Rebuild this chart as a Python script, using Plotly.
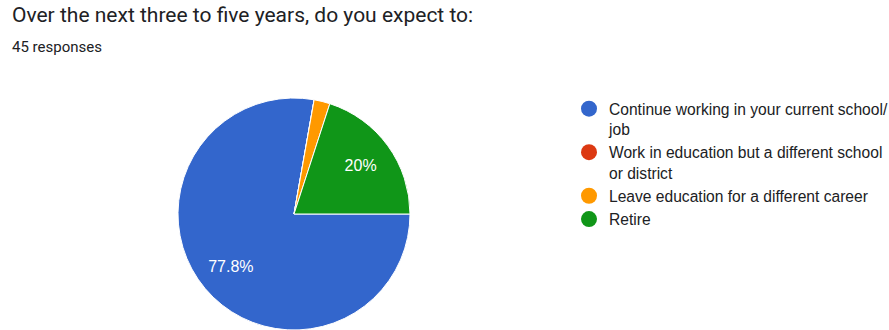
import plotly.graph_objects as go

categories = [
    "Continue working in your current school/<br>job",
    "Work in education but a different school<br>or district",
    "Leave education for a different career",
    "Retire",
]
counts = [35, 0, 1, 9]
colors = ["#3366CC", "#DC3912", "#FF9900", "#109618"]
slice_text = ["%{percent}", "", "", "%{percent}"]

W, H = 889, 330
dom = dict(x=[178 / W, 410 / W], y=[0, 232 / H])

fig = go.Figure()
fig.add_trace(go.Pie(
    labels=categories, values=counts, sort=False, direction="clockwise",
    rotation=90, marker=dict(colors=colors, line=dict(color="white", width=1)),
    textinfo="none", showlegend=False, domain=dom, hoverinfo="skip",
))
fig.add_trace(go.Pie(
    labels=categories, values=counts, sort=False, direction="clockwise",
    rotation=90, hole=0.42,
    marker=dict(colors=["rgba(0,0,0,0)"] * 4, line=dict(width=0)),
    texttemplate=slice_text, textposition="inside", insidetextorientation="horizontal",
    textfont=dict(color="white", size=16, family="Arial"),
    showlegend=False, domain=dom,
))
for lab, col in zip(categories, colors):
    fig.add_trace(go.Scatter(x=[None], y=[None], mode="markers", name=lab,
                             marker=dict(size=16, color=col)))

fig.add_annotation(text="Over the next three to five years, do you expect to:",
                   xref="paper", yref="paper", x=10 / W, y=1 - 15 / H,
                   xanchor="left", yanchor="middle", showarrow=False,
                   font=dict(family="Roboto", size=21, color="#202124"))
fig.add_annotation(text="45 responses",
                   xref="paper", yref="paper", x=10 / W, y=1 - 47 / H,
                   xanchor="left", yanchor="middle", showarrow=False,
                   font=dict(family="Roboto", size=15, color="#202124"))

fig.update_layout(
    width=W, height=H, margin=dict(l=0, r=0, t=0, b=0, autoexpand=False),
    paper_bgcolor="white", plot_bgcolor="white",
    xaxis=dict(visible=False), yaxis=dict(visible=False),
    legend=dict(x=569 / W, y=1 - 92 / H, xanchor="left", yanchor="top",
                valign="top",
                font=dict(family="Arial", size=15.6, color="#202124"),
                bgcolor="rgba(0,0,0,0)"),
)
fig.write_html("out.html")
